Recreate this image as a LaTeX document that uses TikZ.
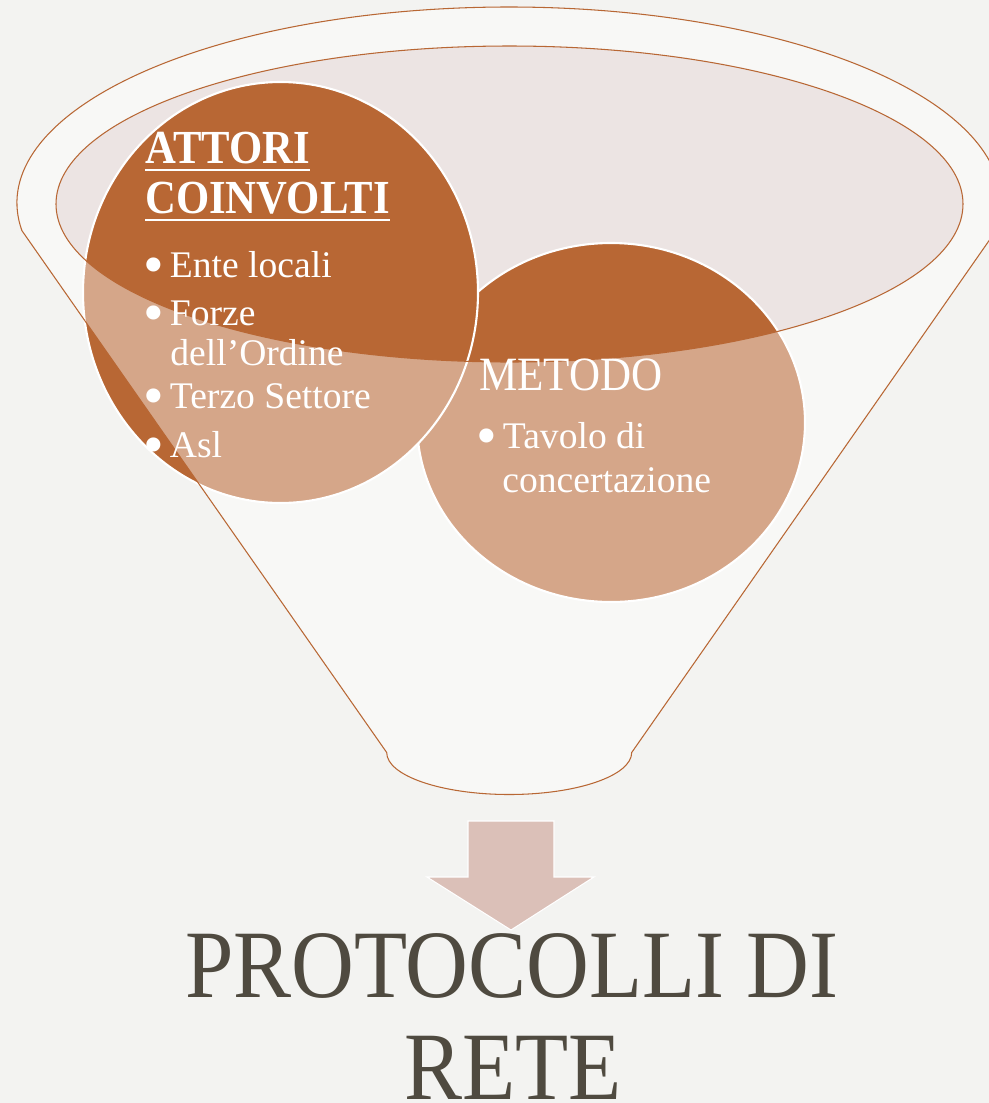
\documentclass[tikz,border=0pt]{standalone}
\usepackage{fontspec}
\setmainfont{Liberation Serif}
\newfontfamily\capsfont[FakeStretch=0.9]{Liberation Serif}
\newcommand{\bul}{\makebox[0.35em][c]{\smash{\raisebox{-4pt}{\fontsize{33.6}{30}\selectfont•}}}}

\definecolor{rust}{HTML}{B86734}
\definecolor{paper}{HTML}{F3F3F1}
\definecolor{mouth}{HTML}{ECE4E3}
\definecolor{arrowpink}{HTML}{DBC0B8}
\definecolor{ink}{HTML}{4F4A40}

\begin{document}
\begin{tikzpicture}[x=0.02cm, y=-0.02cm,
    bubble/.style={fill=rust, draw=white, line width=1.2pt},
    listtext/.style={text=white, inner sep=0pt, anchor=base west, font=\fontsize{21.4}{26}\selectfont},
    headtext/.style={text=white, inner sep=0pt, anchor=base west, font=\capsfont\bfseries\fontsize{27}{30}\selectfont},
    titletext/.style={text=ink, inner sep=0pt, anchor=base, font=\capsfont\fontsize{55}{58}\selectfont}]
        % paper
        \fill[paper] (0,0) rectangle (989,1103);
        \useasboundingbox (0,0) rectangle (989,1103);

        % mouth of the funnel
        \fill[mouth] (509.5,204) ellipse [x radius=453.5, y radius=158];

        % the two bubbles
        \path[bubble] (611,422.5) ellipse [x radius=194, y radius=179.5];
        \path[bubble] (280.5,292.5) ellipse [x radius=197.5, y radius=210.5];

        % funnel body, see-through
        \path[fill=white, fill opacity=0.42, even odd rule, draw=rust, line width=0.6pt]
            (21.9,230.6) arc[start angle=171.9, end angle=368.1, x radius=492, y radius=196]
            -- (631.7,752.5) arc[start angle=0, end angle=180, x radius=122.5, y radius=42] -- cycle
            (509.5,204) ellipse [x radius=453.5, y radius=158];

        % texts of the first bubble
        \node[headtext] (attori) at (145,163) {ATTORI};
        \node[headtext] (coinvolti) at (145,213) {COINVOLTI};
        \foreach \n in {attori, coinvolti}
        \draw[white, line width=1.6pt] ([yshift=-4pt]\n.base west) -- ([yshift=-4pt]\n.base east);
        \foreach \y/\t in {277/Ente locali, 325/Forze, 408/Terzo Settore, 457/Asl}
        \node[listtext] (item\y) at (147,\y) {\bul\ \t};
        \node[listtext] (ordine) at (170,365) {dell’Ordine};

        % texts of the second bubble
        \node[listtext, font=\capsfont\fontsize{27.2}{30}\selectfont] (metodo) at (479,390) {METODO};
        \node[listtext] (tavolo) at (480,448) {\bul\ Tavolo di};
        \node[listtext] (concert) at (502,492) {concertazione};

        % arrow and result
        \draw[fill=arrowpink, draw=white, line width=0.6pt]
            (468,821) -- (554,821) -- (554,877) -- (594,877) -- (511,930) -- (427,877) -- (468,877) -- cycle;
        \node[titletext] (protocolli) at (511.6,997) {PROTOCOLLI DI};
        \node[titletext] (rete) at (512.7,1099) {RETE};
    \end{tikzpicture}
\end{document}
